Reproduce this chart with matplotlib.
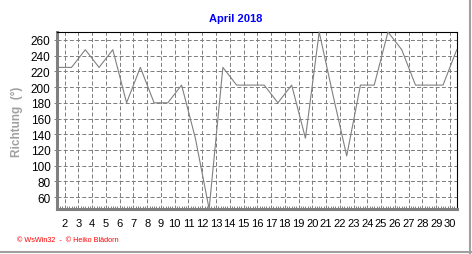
#!/usr/bin/env python3
import matplotlib
matplotlib.use("Agg")
import matplotlib.pyplot as plt
from matplotlib.ticker import MultipleLocator
from matplotlib.lines import Line2D

# input data
days = list(range(1, 31))
richtung = [225, 225, 247.5, 225, 247.5, 180, 225, 180, 180, 202.5,
            135, 45, 225, 202.5, 202.5, 202.5, 180, 202.5, 135, 270,
            190, 112.5, 202.5, 202.5, 270, 247.5, 202.5, 202.5, 202.5, 247.5]
x_ticks = list(range(2, 31))
y_ticks = list(range(60, 261, 20))
title = "April 2018"
ylabel = "Richtung  (°)"
footer = "© WsWin32  -  © Heiko Blädorn"

plt.rcParams['font.family'] = ['Liberation Sans', 'DejaVu Sans']

fig = plt.figure(figsize=(4.72, 2.55), dpi=100)
fig.patch.set_facecolor('white')
ax = fig.add_axes([0.1201, 0.1765, 0.8488, 0.6941])

# each day is drawn in the middle of its interval
xs = [d + 0.5 for d in days]
ax.plot(xs, richtung, color='#808080', linewidth=0.8, zorder=3, clip_on=False)

ax.set_xlim(1.42, 30.54)
ax.set_ylim(45, 270)
ax.set_xticks(x_ticks)
ax.set_xticklabels([str(t) for t in x_ticks])
ax.set_yticks(y_ticks)
ax.xaxis.set_minor_locator(MultipleLocator(1 / 6))

ax.grid(True, which='major', color='#808080', linewidth=0.72,
        linestyle=(0, (4, 2.2)))
ax.set_axisbelow(True)

for side in ['top', 'right']:
    ax.spines[side].set_color('black')
    ax.spines[side].set_linewidth(0.8)
for side in ['left', 'bottom']:
    ax.spines[side].set_color('#808080')
    ax.spines[side].set_linewidth(2.2)

ax.tick_params(axis='x', which='major', length=0, pad=6.5, labelsize=8)
ax.tick_params(axis='x', which='minor', direction='in', length=2,
               width=0.7, color='#808080')
ax.tick_params(axis='y', which='major', direction='out', length=2.5,
               width=0.7, color='#808080', pad=2, labelsize=8.5)

ax.set_ylabel(ylabel, color='#a0a0a0', fontsize=8.5, fontweight='bold',
              labelpad=5)
ax.yaxis.set_label_coords(-0.085, 0.5)

fig.text(0.5, 0.925, title, color='#0000ff', fontsize=8, fontweight='bold',
         ha='center', va='center')
fig.text(0.036, 0.058, footer, color='#ff0000', fontsize=5.2,
         ha='left', va='center')

# light frame at right and bottom of the picture
fig.add_artist(Line2D([0.996, 0.996], [0.0, 1.0], color='#a0a0a0',
                      linewidth=1.5, transform=fig.transFigure))
fig.add_artist(Line2D([0.0, 1.0], [0.006, 0.006], color='#a0a0a0',
                      linewidth=1.5, transform=fig.transFigure))

plt.savefig('out.png', dpi=100, facecolor='white')
